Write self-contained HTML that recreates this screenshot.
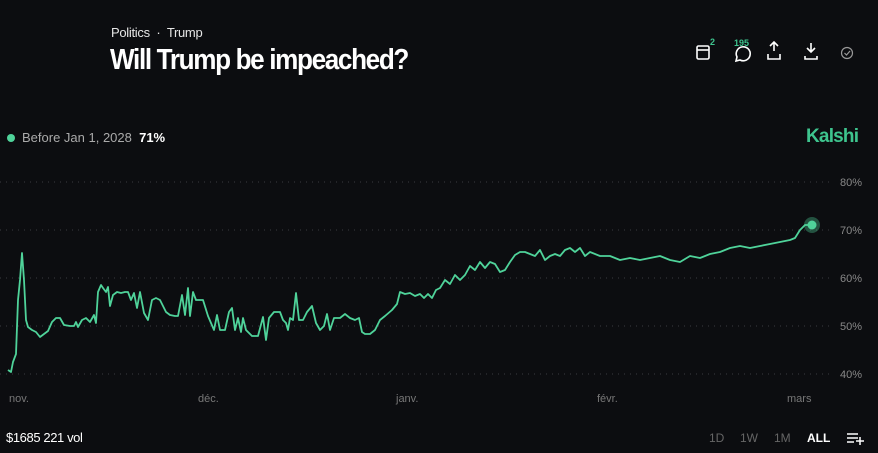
<!DOCTYPE html>
<html><head><meta charset="utf-8"><style>
body{margin:0;width:878px;height:453px;background:#0c0d10;font-family:"Liberation Sans",sans-serif;overflow:hidden;position:relative;color:#fff}
.a{position:absolute;white-space:nowrap}
</style></head><body>
<div class="a" style="left:111px;top:25px;font-size:13px;color:#e6e6e6;letter-spacing:-0.3px">Politics &nbsp;·&nbsp; Trump</div>
<div class="a" style="left:110px;top:44px;font-size:29px;font-weight:bold;letter-spacing:-1.5px;transform:scaleX(0.9);transform-origin:left">Will Trump be impeached?</div>
<svg class="a" style="left:0;top:0" width="878" height="453">
<g stroke="#fff" stroke-width="1.6" fill="none">
<rect x="697" y="46" width="12" height="13" rx="1.5"/><line x1="697" y1="50" x2="709" y2="50"/>
<path d="M740 60 a7 7 0 1 0 -3 -3 l-1 4z"/>
<path d="M774 51 l0 -9 M770 46 l4 -4 4 4 M768 54 v5 h12 v-5"/>
<path d="M811 43 v9 M807 48 l4 4 4 -4 M805 56 v3 h12 v-3"/>
<circle cx="847" cy="53" r="5.5" stroke="#999" stroke-width="1.2"/><path d="M844.5 53 l2 2 3.5 -4" stroke="#999" stroke-width="1.2"/>
</g>
<text x="710" y="45" fill="#3ec48e" font-size="9" font-weight="bold">2</text>
<text x="734" y="46" fill="#3ec48e" font-size="9" font-weight="bold">195</text>
<g stroke="#3a3b40" stroke-dasharray="1 5" stroke-width="1">
<line x1="0" y1="182" x2="830" y2="182"/><line x1="0" y1="230" x2="830" y2="230"/><line x1="0" y1="278" x2="830" y2="278"/><line x1="0" y1="326" x2="830" y2="326"/><line x1="0" y1="374" x2="830" y2="374"/>
</g>
<g fill="#888" font-size="11"><text x="840" y="186">80%</text><text x="840" y="234">70%</text><text x="840" y="282">60%</text><text x="840" y="330">50%</text><text x="840" y="378">40%</text></g>
<g fill="#777" font-size="11"><text x="9" y="402">nov.</text><text x="198" y="402">déc.</text><text x="396" y="402">janv.</text><text x="597" y="402">févr.</text><text x="787" y="402">mars</text></g>
<polyline fill="none" stroke="#4fd39a" stroke-width="1.8" stroke-linejoin="round" points="8,370 11,372 13,362 16,354 18,300 20,280 22,253 24,280 26,320 28,327 32,330 36,332 40,337 44,334 48,331 52,322 56,318 60,318 64,325 70,326 74,326 76,322 78,327 82,320 86,318 90,322 94,315 96,323 98,292 101,285 103,288 106,292 108,287 110,306 113,295 117,292 121,293 125,292 128,292 131,300 134,293 137,308 140,292 144,313 148,320 152,300 156,298 160,300 166,312 170,315 175,316 178,316 182,295 185,315 188,288 190,316 193,292 196,300 203,300 208,316 214,330 217,315 220,330 225,330 229,312 232,308 235,330 238,318 241,332 243,318 246,330 252,336 258,336 263,317 266,340 269,318 274,312 280,312 283,320 286,323 288,330 290,318 293,320 296,293 299,320 303,320 307,312 312,306 316,323 320,330 324,326 327,314 330,330 334,318 340,318 345,314 350,318 355,320 359,318 362,332 365,334 370,334 375,330 380,320 385,316 392,310 397,304 400,292 405,294 410,293 415,296 420,294 424,298 428,294 432,298 436,290 440,288 445,280 450,284 455,275 460,280 465,275 470,266 475,270 480,262 485,268 490,262 495,264 500,272 505,270 510,262 515,255 520,252 525,252 530,254 535,256 540,250 545,260 550,256 555,254 560,256 565,250 570,248 575,252 580,248 585,256 590,252 600,256 610,256 620,260 630,258 640,260 650,258 660,256 670,260 680,262 690,256 700,258 710,254 720,252 730,248 740,246 750,248 760,246 770,244 780,242 790,240 795,238 800,230 805,225 812,225"/>
<circle cx="812" cy="225" r="8" fill="#4fd39a" opacity="0.35"/><circle cx="812" cy="225" r="4.5" fill="#4fd39a"/>
<circle cx="11" cy="138" r="4" fill="#4fd39a"/>
<g stroke="#fff" stroke-width="1.5"><line x1="847" y1="434" x2="858" y2="434"/><line x1="847" y1="438" x2="858" y2="438"/><line x1="847" y1="442" x2="854" y2="442"/><line x1="856" y1="441" x2="864" y2="441"/><line x1="860" y1="437" x2="860" y2="445"/></g>
</svg>
<div class="a" style="left:22px;top:130px;font-size:13px;color:#aaa">Before Jan 1, 2028 &nbsp;<b style="color:#fff">71%</b></div>
<div class="a" style="left:806px;top:126px;font-size:19px;font-weight:bold;color:#3ec48e;letter-spacing:-0.8px">Kalshi</div>
<div class="a" style="left:6px;top:430px;font-size:13px;color:#fff;letter-spacing:-0.4px">$1685 221 vol</div>
<div class="a" style="left:709px;top:431px;font-size:12px;color:#666">1D</div>
<div class="a" style="left:740px;top:431px;font-size:12px;color:#666">1W</div>
<div class="a" style="left:774px;top:431px;font-size:12px;color:#666">1M</div>
<div class="a" style="left:807px;top:431px;font-size:12px;font-weight:bold;color:#fff">ALL</div>
</body></html>
